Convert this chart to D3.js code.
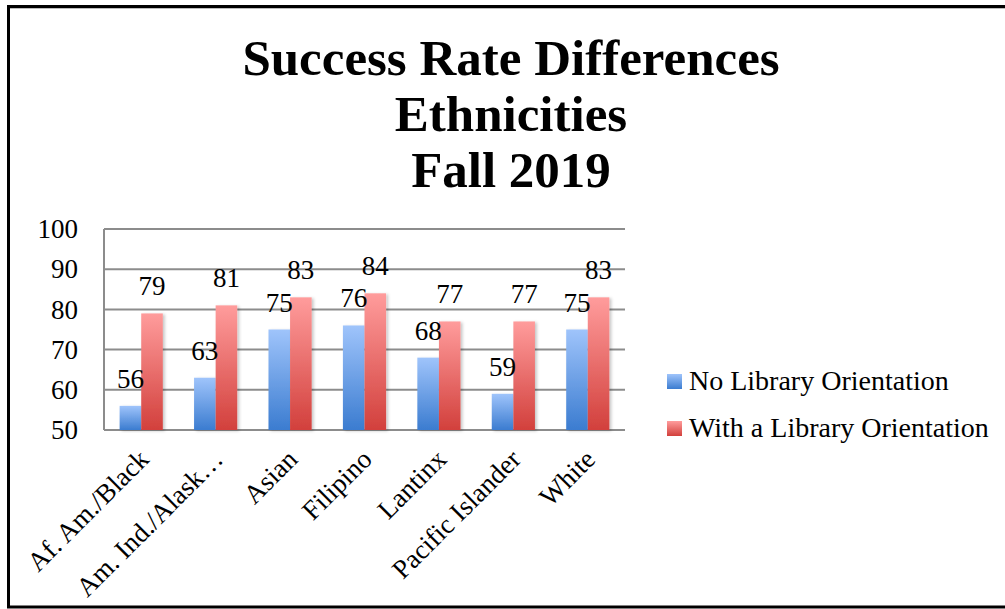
<!DOCTYPE html>
<html>
<head>
<meta charset="utf-8">
<script src="https://cdn.jsdelivr.net/npm/d3@7"></script>
<style>
  html, body { margin: 0; padding: 0; background: #fff; }
  svg { display: block; }
  text { font-family: "Liberation Serif", "Times New Roman", serif; fill: #000; }
</style>
</head>
<body>
<svg id="chart" width="1005" height="609"></svg>
<script>
const categories = ["Af. Am./Black", "Am. Ind./Alask…", "Asian", "Filipino", "Lantinx", "Pacific Islander", "White"];
const seriesNames = ["No Library Orientation", "With a Library Orientation"];
const noOrientation = [56, 63, 75, 76, 68, 59, 75];
const withOrientation = [79, 81, 83, 84, 77, 77, 83];
const yTicks = [50, 60, 70, 80, 90, 100];
const titleLines = ["Success Rate Differences", "Ethnicities", "Fall 2019"];

(function () {
const svg = d3.select("#chart");
const W = 1005, H = 609;

svg.append("rect").attr("width", W).attr("height", H).attr("fill", "#fff");

svg.append("path")
  .attr("d", "M 1010 6.5 L 8.5 6.5 L 8.5 607 L 1010 607")
  .attr("fill", "none").attr("stroke", "#000").attr("stroke-width", 3);
svg.append("line").attr("x1", 10).attr("x2", W).attr("y1", 8.5).attr("y2", 8.5)
  .attr("stroke", "#bbb").attr("stroke-width", 1);

const defs = svg.append("defs");
function grad(id, c1, c2) {
  const g = defs.append("linearGradient").attr("id", id)
    .attr("x1", 0).attr("y1", 0).attr("x2", 0).attr("y2", 1);
  g.append("stop").attr("offset", "0%").attr("stop-color", c1);
  g.append("stop").attr("offset", "100%").attr("stop-color", c2);
}
grad("gBlue", "#9fc4fb", "#3b7cd0");
grad("gRed", "#ff9c9c", "#d2403c");
const sh = defs.append("filter").attr("id", "shadow").attr("x", "-20%").attr("y", "-5%").attr("width", "150%").attr("height", "115%");
sh.append("feDropShadow").attr("dx", 2).attr("dy", 1).attr("stdDeviation", 1.5)
  .attr("flood-color", "#000").attr("flood-opacity", 0.22);

svg.append("g").selectAll("text").data(titleLines).join("text")
  .attr("x", 511).attr("y", (d, i) => 75 + i * 56)
  .attr("text-anchor", "middle")
  .attr("font-size", 51).attr("font-weight", "bold")
  .text(d => d);

const pLeft = 104, pRight = 625, pTop = 229, pBottom = 430;
const x0 = d3.scaleBand().domain(categories).range([pLeft, pRight]).paddingInner(0.42).paddingOuter(0.21);
const x1 = d3.scaleBand().domain(seriesNames).range([0, x0.bandwidth()]);
const y = d3.scaleLinear().domain([50, 100]).range([pBottom, pTop]);

svg.append("g").selectAll("line").data(yTicks).join("line")
  .attr("x1", pLeft).attr("x2", pRight)
  .attr("y1", d => y(d)).attr("y2", d => y(d))
  .attr("stroke", "#8c8c8c").attr("stroke-width", 2);
svg.append("line").attr("x1", pLeft).attr("x2", pLeft).attr("y1", pTop).attr("y2", pBottom)
  .attr("stroke", "#8c8c8c").attr("stroke-width", 2);

const yAxis = d3.axisLeft(y).tickValues(yTicks).tickSize(0).tickPadding(26);
const ya = svg.append("g").attr("transform", `translate(${pLeft},0)`).call(yAxis);
ya.select(".domain").remove();
ya.selectAll("text").attr("font-size", 27).attr("font-family", "Liberation Serif").attr("fill", "#000");

const data = categories.map((c, i) => ({ c, vals: [noOrientation[i], withOrientation[i]] }));
const fills = ["url(#gBlue)", "url(#gRed)"];

const groups = svg.append("g").selectAll("g").data(data).join("g")
  .attr("transform", d => `translate(${x0(d.c)},0)`);
groups.selectAll("rect").data(d => d.vals.map((v, k) => ({ v, k }))).join("rect")
  .attr("x", d => x1(seriesNames[d.k]))
  .attr("width", x1.bandwidth())
  .attr("y", d => y(d.v))
  .attr("height", d => pBottom - y(d.v))
  .attr("fill", d => fills[d.k])
  .attr("filter", "url(#shadow)");
groups.selectAll("text").data(d => d.vals.map((v, k) => ({ v, k }))).join("text")
  .attr("x", d => x1(seriesNames[d.k]) + x1.bandwidth() / 2)
  .attr("y", d => y(d.v) - 18)
  .attr("text-anchor", "middle")
  .attr("font-size", 27)
  .text(d => d.v);

const xAxis = d3.axisBottom(x0).tickSize(0).tickPadding(0);
const xa = svg.append("g").attr("transform", `translate(0,${pBottom})`).call(xAxis);
xa.select(".domain").remove();
xa.selectAll("text")
  .attr("font-size", 27).attr("font-family", "Liberation Serif").attr("fill", "#000")
  .attr("text-anchor", "end")
  .attr("dy", 0)
  .attr("y", 0)
  .attr("transform", "translate(9,31) rotate(-45)");

const lg = svg.append("g").selectAll("g").data(seriesNames).join("g")
  .attr("transform", (d, i) => `translate(667,${374 + i * 47})`);
lg.append("rect").attr("width", 15).attr("height", 15).attr("fill", (d, i) => fills[i]);
lg.append("text").attr("x", 22).attr("y", 16).attr("font-size", 28).text(d => d);
})();
</script>
</body>
</html>
